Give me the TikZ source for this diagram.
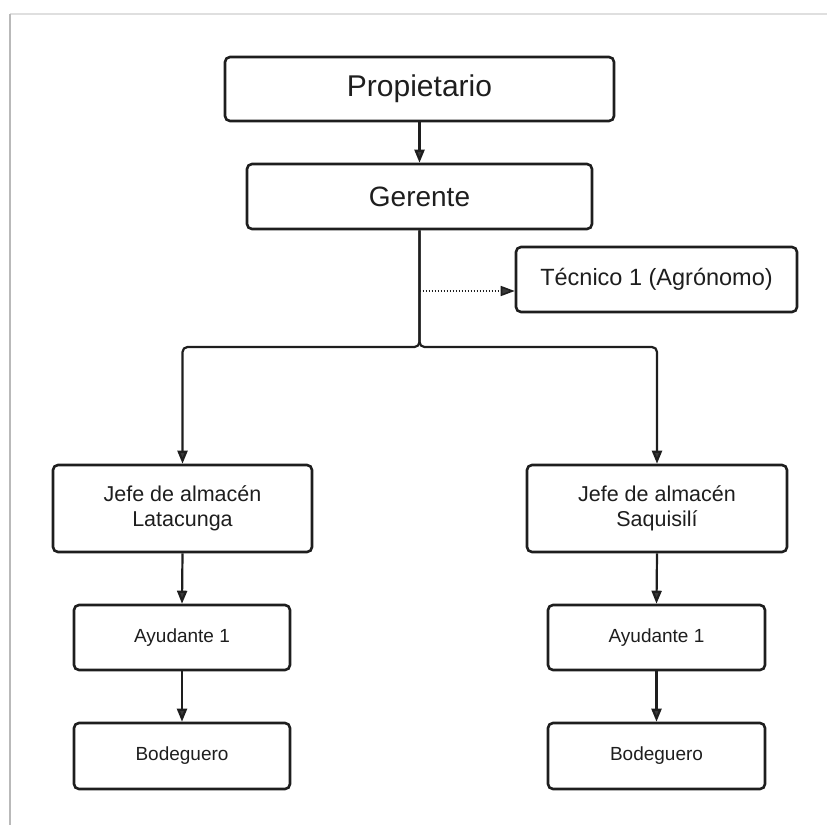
\documentclass[tikz,border=0pt]{standalone}
\usepackage{fontspec}
\setmainfont{Liberation Sans}
\usetikzlibrary{arrows.meta}
\definecolor{ink}{HTML}{1E1E1E}
\definecolor{tip}{HTML}{3A3A3A}
\begin{document}
\begin{tikzpicture}[x=1pt,y=-1pt,
  box/.style={draw=ink, line width=2.6pt, rounded corners=5pt, text=ink, align=center, inner sep=0pt},
  conn/.style={draw=ink, line width=2.2pt, -{Triangle[length=13pt,width=10pt,fill=tip]}},
  dotconn/.style={draw=ink, line width=1.6pt, dash pattern=on 1.5pt off 1.5pt, -{Triangle[length=14pt,width=10pt,fill=tip]}}
]
\useasboundingbox (0,0) rectangle (827,825);
% page frame
\draw[gray!25, line width=1.5pt] (10,14) -- (827,14);
\draw[gray!55, line width=2.5pt] (10,14) -- (10,825);

\node[box, minimum width=389pt, minimum height=64pt, font=\fontsize{30}{36}\selectfont] (prop) at (419.5,89) {Propietario};
\node[box, minimum width=345pt, minimum height=65pt, font=\fontsize{28}{34}\selectfont] (ger) at (419.5,196.5) {Gerente};
\node[box, minimum width=281pt, minimum height=65pt, font=\fontsize{23.5}{28}\selectfont] (tec) at (656.5,279.5) {Técnico 1 (Agrónomo)};
\node[box, minimum width=259pt, minimum height=87pt, font=\fontsize{21.5}{25}\selectfont] (jefL) at (182.5,508.5) {Jefe de almacén\\Latacunga};
\node[box, minimum width=260pt, minimum height=87pt, font=\fontsize{21.5}{25}\selectfont] (jefR) at (657,508.5) {Jefe de almacén\\Saquisilí};
\node[box, minimum width=216pt, minimum height=65pt, font=\fontsize{19}{22}\selectfont] (ayuL) at (182,637.5) {Ayudante 1};
\node[box, minimum width=216pt, minimum height=66pt, font=\fontsize{19}{22}\selectfont] (bodL) at (182,756) {Bodeguero};
\node[box, minimum width=217pt, minimum height=65pt, font=\fontsize{19}{22}\selectfont] (ayuR) at (656.5,637.5) {Ayudante 1};
\node[box, minimum width=217pt, minimum height=66pt, font=\fontsize{19}{22}\selectfont] (bodR) at (656.5,756) {Bodeguero};

\coordinate (j) at (419.5,347);
\coordinate (d0) at (419.5,291);

\draw[conn] (prop.south) -- (ger.north);
\draw[conn, rounded corners=5pt] (ger.south) -- (j) -| (jefL.north);
\draw[conn, rounded corners=5pt] (ger.south) -- (j) -| (jefR.north);
\draw[dotconn] (d0) -- (d0 -| tec.west);
\draw[conn] (jefL.south) -- (ayuL.north);
\draw[conn] (ayuL.south) -- (bodL.north);
\draw[conn] (jefR.south) -- (ayuR.north);
\draw[conn] (ayuR.south) -- (bodR.north);
\end{tikzpicture}
\end{document}
